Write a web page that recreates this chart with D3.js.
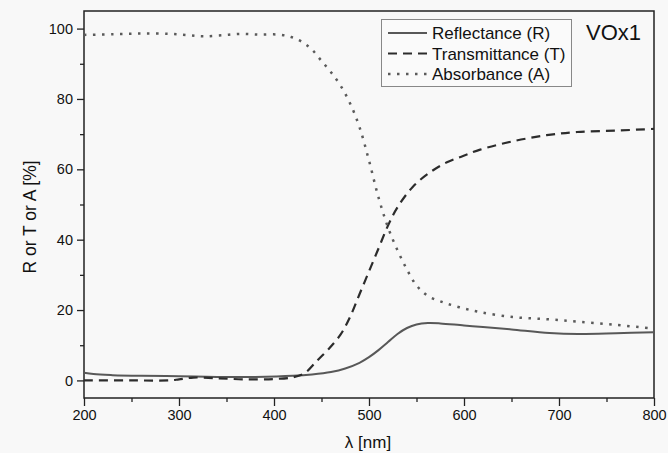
<!DOCTYPE html>
<html>
<head>
<meta charset="utf-8">
<script src="https://cdn.jsdelivr.net/npm/d3@7/dist/d3.min.js"></script>
<style>
  html, body { margin: 0; padding: 0; background: #f8f8f8; }
  svg { display: block; font-family: "Liberation Sans", Arial, sans-serif; }
</style>
</head>
<body>
<svg id="chart" width="668" height="453"></svg>
<script>
// VOx1 optical spectra — R, T, A vs wavelength.

const xTicks = [200, 300, 400, 500, 600, 700, 800];
const yTicks = [0, 20, 40, 60, 80, 100];

const reflectance = [
  [200, 2.2], [210, 1.8], [230, 1.5], [260, 1.3], [300, 1.2], [340, 1.0],
  [380, 1.0], [420, 1.3], [440, 1.7], [460, 2.4], [475, 3.4], [490, 5.0],
  [500, 6.6], [510, 8.6], [520, 10.9], [530, 13.2], [540, 14.9], [550, 15.9],
  [562, 16.3], [575, 16.2], [600, 15.6], [620, 15.2], [650, 14.5], [690, 13.5],
  [720, 13.2], [760, 13.4], [800, 13.7]
];

const transmittance = [
  [200, 0], [250, 0], [290, 0], [300, 0.3], [315, 0.8], [340, 0.6],
  [370, 0.3], [400, 0.4], [420, 0.9], [432, 2.0], [445, 5.5], [457, 8.8],
  [470, 13], [480, 18], [490, 24.5], [500, 31], [510, 37.5], [520, 44],
  [530, 49.2], [546, 55], [564, 59.1], [582, 62], [599, 63.8], [617, 65.6],
  [652, 68], [687, 69.7], [719, 70.6], [760, 71], [800, 71.5]
];

const absorbance = [
  [200, 98.2], [230, 98.4], [260, 98.6], [290, 98.5], [310, 98.1], [325, 97.8],
  [345, 98.1], [365, 98.5], [385, 98.3], [405, 98.3], [418, 97.6], [429, 96.3],
  [440, 94], [450, 90.8], [460, 87.6], [470, 83.8], [480, 78.8], [490, 72],
  [500, 62.5], [510, 52], [520, 43.5], [530, 37], [540, 31.5], [550, 27],
  [562, 24], [578, 22.2], [595, 20.8], [617, 19.4], [652, 18], [687, 17.4],
  [720, 16.7], [760, 15.8], [800, 14.7]
];

const series = [
  { label: "Reflectance (R)", data: reflectance, color: "#585858", dash: null, width: 2 },
  { label: "Transmittance (T)", data: transmittance, color: "#2c2c2c", dash: "9,6", width: 2.2 },
  { label: "Absorbance (A)", data: absorbance, color: "#5a5a5a", dash: "2.5,6.5", width: 2.5 }
];

const svg = d3.select("#chart");
const plotLeft = 84, plotRight = 654, plotTop = 11, plotBottom = 398;

const x = d3.scaleLinear().domain([200, 800]).range([plotLeft, plotRight]);
const y = d3.scaleLinear().domain([-5, 105]).range([plotBottom, plotTop]);

// plot frame
svg.append("rect")
  .attr("x", plotLeft).attr("y", plotTop)
  .attr("width", plotRight - plotLeft).attr("height", plotBottom - plotTop)
  .attr("fill", "none").attr("stroke", "#222").attr("stroke-width", 1.5);

// axes — major ticks with labels, minor ticks in between
const xAxis = svg.append("g").attr("transform", `translate(0,${plotBottom})`);
xAxis.append("g").call(d3.axisBottom(x).tickValues(d3.range(250, 800, 100)).tickSize(4).tickFormat(""));
xAxis.append("g").call(d3.axisBottom(x).tickValues(xTicks).tickSize(8).tickPadding(4).tickFormat(d3.format("d")));

const yAxis = svg.append("g").attr("transform", `translate(${plotLeft},0)`);
yAxis.append("g").call(d3.axisLeft(y).tickValues(d3.range(10, 100, 20)).tickSize(4).tickFormat(""));
yAxis.append("g").call(d3.axisLeft(y).tickValues(yTicks).tickSize(7).tickPadding(4).tickFormat(d3.format("d")));

svg.selectAll(".domain").remove();
svg.selectAll(".tick line").attr("stroke", "#222").attr("stroke-width", 1.3);
svg.selectAll(".tick text").attr("fill", "#111").style("font-size", "14.5px")
  .style("font-family", "'Liberation Sans', Arial, sans-serif");

// axis titles
svg.append("text")
  .attr("x", 368).attr("y", 448)
  .attr("text-anchor", "middle")
  .style("font-size", "17px").attr("fill", "#111")
  .text("λ [nm]");

svg.append("text")
  .attr("transform", "translate(36,217) rotate(-90)")
  .attr("text-anchor", "middle")
  .style("font-size", "17.5px").attr("fill", "#111")
  .text("R or T or A [%]");

// curves
const line = d3.line()
  .x((d) => x(d[0]))
  .y((d) => y(d[1]))
  .curve(d3.curveCatmullRom.alpha(0.5));

svg.append("g").selectAll("path")
  .data(series)
  .join("path")
  .attr("d", (s) => line(s.data))
  .attr("fill", "none")
  .attr("stroke", (s) => s.color)
  .attr("stroke-width", (s) => s.width)
  .attr("stroke-dasharray", (s) => s.dash);

// legend
const legend = svg.append("g");
legend.append("rect")
  .attr("x", 381.5).attr("y", 19.5).attr("width", 190).attr("height", 67)
  .attr("fill", "#fafafa").attr("stroke", "#888").attr("stroke-width", 1);

series.forEach((s, i) => {
  const ly = 33 + i * 20.5;
  legend.append("line")
    .attr("x1", 388).attr("x2", 427).attr("y1", ly).attr("y2", ly)
    .attr("stroke", s.color).attr("stroke-width", s.width)
    .attr("stroke-dasharray", s.dash);
  legend.append("text")
    .attr("x", 432).attr("y", ly + 6)
    .style("font-size", "17px").attr("fill", "#111")
    .text(s.label);
});

svg.append("text")
  .attr("x", 586).attr("y", 40)
  .style("font-size", "22px").attr("fill", "#111")
  .text("VOx1");
</script>
</body>
</html>
